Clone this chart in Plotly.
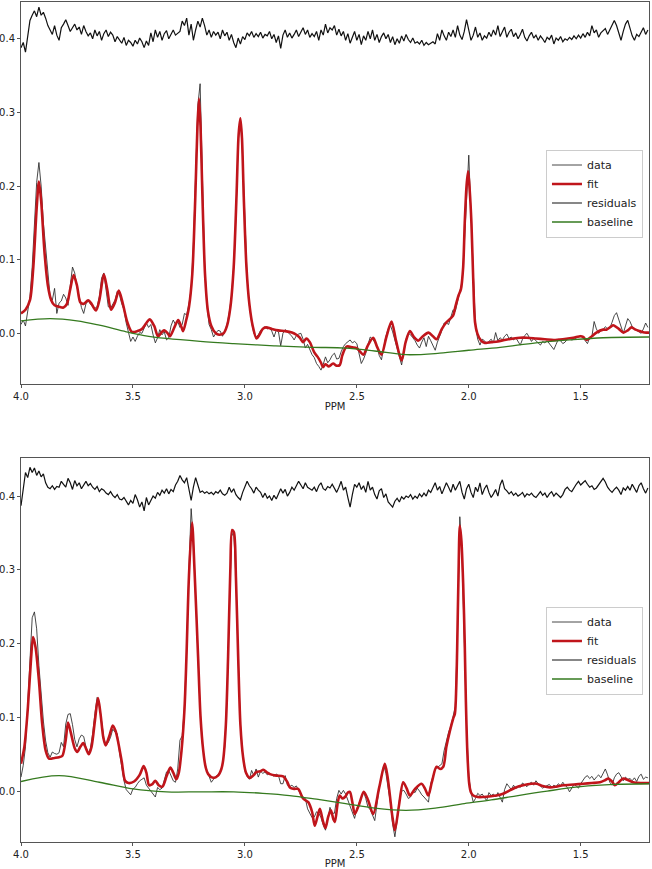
import numpy as np
import plotly.graph_objects as go

# ---------------- shared sampling grid (ppm) ----------------
ppm_grid = [round(4.00 - 0.01 * i, 2) for i in range(281)]  # 4.00 ... 1.20

# ---------------- TOP PANEL ----------------
data_top = [
    0.012, 0.018, 0.010, 0.030, 0.050, 0.090, 0.140, 0.205, 0.232, 0.200,
    0.150, 0.113, 0.075, 0.050, 0.045, 0.061, 0.027, 0.041, 0.044, 0.053,
    0.048, 0.038, 0.065, 0.090, 0.082, 0.062, 0.050, 0.035, 0.027, 0.040,
    0.044, 0.040, 0.036, 0.034, 0.036, 0.050, 0.075, 0.082, 0.060, 0.036,
    0.034, 0.040, 0.045, 0.057, 0.052, 0.040, 0.032, 0.014, 0.002, -0.011,
    -0.005, -0.011, -0.004, 0.001, 0.000, 0.008, 0.014, 0.008, 0.012, -0.002,
    -0.013, -0.006, 0.005, -0.002, 0.002, -0.009, -0.006, 0.010, 0.018, 0.012,
    0.016, 0.008, 0.012, 0.027, 0.025, 0.040, 0.060, 0.120, 0.220, 0.310,
    0.339, 0.200, 0.095, 0.040, 0.012, 0.005, -0.005, 0.000, 0.004, 0.003,
    -0.004, 0.002, 0.012, 0.028, 0.050, 0.090, 0.160, 0.260, 0.292, 0.240,
    0.150, 0.075, 0.038, 0.015, 0.000, -0.005, -0.002, 0.004, 0.007, 0.009,
    0.006, 0.008, 0.003, -0.005, 0.004, 0.002, -0.017, 0.000, 0.005, 0.002,
    0.000, -0.004, -0.009, -0.003, -0.001, 0.000, -0.008, -0.020, -0.015, -0.022,
    -0.029, -0.033, -0.041, -0.045, -0.050, -0.042, -0.032, -0.040, -0.036, -0.030,
    -0.027, -0.035, -0.034, -0.025, -0.018, -0.014, -0.011, -0.009, -0.013, -0.011,
    -0.014, -0.027, -0.041, -0.035, -0.027, -0.015, -0.005, -0.008, -0.012, -0.018,
    -0.030, -0.036, -0.020, -0.004, 0.006, 0.011, 0.002, -0.010, -0.022, -0.035,
    -0.043, -0.025, -0.008, 0.000, -0.002, -0.006, -0.010, -0.016, -0.020, -0.012,
    -0.006, -0.018, -0.004, -0.010, -0.017, -0.023, -0.012, -0.005, 0.004, 0.014,
    0.014, 0.012, 0.022, 0.032, 0.030, 0.045, 0.059, 0.070, 0.120, 0.190,
    0.242, 0.160, 0.070, 0.009, -0.008, -0.016, -0.008, -0.010, -0.014, -0.011,
    -0.008, -0.013, 0.001, -0.010, -0.006, -0.009, -0.004, -0.001, -0.007, -0.005,
    -0.009, -0.006, -0.012, -0.016, -0.008, -0.003, 0.000, -0.006, -0.011, -0.007,
    -0.010, -0.013, -0.016, -0.011, -0.013, -0.010, -0.014, -0.018, -0.022, -0.015,
    -0.008, -0.010, -0.014, -0.012, -0.008, -0.006, -0.009, -0.008, -0.006, -0.004,
    -0.003, -0.006, -0.010, -0.014, -0.006, -0.004, 0.016, 0.006, 0.000, 0.004,
    0.005, 0.009, 0.006, 0.007, 0.015, 0.024, 0.028, 0.018, 0.008, 0.000,
    0.010, 0.020, 0.016, 0.009, 0.006, 0.004, 0.002, 0.000, 0.006, 0.014,
    0.008,
]

resid_top = [
    0.388, 0.395, 0.382, 0.405,
    0.425, 0.432, 0.438, 0.430, 0.443, 0.432, 0.436,
    0.428, 0.418, 0.412, 0.406, 0.418, 0.405, 0.398, 0.415, 0.420, 0.426,
    0.418, 0.410, 0.415, 0.420, 0.412, 0.416, 0.406, 0.418, 0.410, 0.404,
    0.408, 0.400, 0.412, 0.404, 0.410, 0.398, 0.407, 0.412, 0.403, 0.409,
    0.405, 0.396, 0.403, 0.399, 0.394, 0.402, 0.391, 0.398, 0.395, 0.390,
    0.398, 0.393, 0.401, 0.396, 0.388, 0.397, 0.391, 0.408, 0.396, 0.412,
    0.402, 0.410, 0.398, 0.407, 0.411, 0.400, 0.406, 0.412, 0.405, 0.408,
    0.410, 0.424, 0.418, 0.428, 0.405, 0.420, 0.398, 0.412, 0.424, 0.416,
    0.428, 0.418, 0.405, 0.412, 0.402, 0.410, 0.405, 0.409, 0.400, 0.412,
    0.404, 0.409, 0.398, 0.406, 0.395, 0.388, 0.401, 0.393, 0.403, 0.399,
    0.408, 0.404, 0.410, 0.402, 0.407, 0.403, 0.409, 0.401, 0.406, 0.404,
    0.410, 0.400, 0.406, 0.395, 0.404, 0.387, 0.405, 0.412, 0.402, 0.408,
    0.401, 0.406, 0.412, 0.403, 0.409, 0.415, 0.406, 0.412, 0.402, 0.407,
    0.403, 0.410, 0.398, 0.412, 0.405, 0.420, 0.408, 0.415, 0.412, 0.418,
    0.405, 0.413, 0.404, 0.410, 0.398, 0.407, 0.394, 0.402, 0.410, 0.398,
    0.406, 0.392, 0.404, 0.398, 0.410, 0.400, 0.412, 0.398, 0.406, 0.395,
    0.403, 0.408, 0.400, 0.406, 0.395, 0.403, 0.392, 0.400, 0.394, 0.404,
    0.397, 0.406, 0.399, 0.395, 0.401, 0.394, 0.396, 0.393, 0.398, 0.391,
    0.395, 0.392, 0.394, 0.396, 0.393, 0.407, 0.398, 0.412, 0.404, 0.398,
    0.409, 0.403, 0.412, 0.402, 0.418, 0.405, 0.399, 0.410, 0.426, 0.410,
    0.398, 0.405, 0.416, 0.402, 0.408, 0.398, 0.404, 0.401, 0.409, 0.403,
    0.412, 0.405, 0.418, 0.403, 0.410, 0.416, 0.402, 0.409, 0.413, 0.403,
    0.408, 0.400, 0.406, 0.413, 0.402, 0.397, 0.404, 0.409, 0.401, 0.405,
    0.398, 0.404, 0.400, 0.395, 0.402, 0.399, 0.405, 0.393, 0.401, 0.398,
    0.403, 0.396, 0.400, 0.398, 0.402, 0.399, 0.404, 0.400, 0.405, 0.401,
    0.407, 0.402, 0.409, 0.404, 0.418, 0.408, 0.412, 0.402, 0.408, 0.411,
    0.414, 0.406, 0.412, 0.420, 0.425, 0.418, 0.407, 0.398, 0.410, 0.420,
    0.425, 0.414, 0.404, 0.398, 0.406, 0.403, 0.410, 0.415, 0.406, 0.412,
]

fit_top_ppm = [
    4.00, 3.98, 3.96, 3.945, 3.93, 3.92, 3.91, 3.895, 3.88, 3.865,
    3.85, 3.83, 3.81, 3.795, 3.78, 3.765, 3.75, 3.735, 3.72, 3.70,
    3.685, 3.665, 3.65, 3.63, 3.615, 3.598, 3.58, 3.563, 3.545, 3.525,
    3.505, 3.48, 3.46, 3.44, 3.425, 3.405, 3.388, 3.37, 3.36, 3.345,
    3.335, 3.315, 3.298, 3.285, 3.276, 3.262, 3.25, 3.235, 3.222, 3.212,
    3.205, 3.198, 3.19, 3.178, 3.165, 3.15, 3.13, 3.115, 3.095, 3.08,
    3.065, 3.05, 3.037, 3.028, 3.02, 3.013, 3.005, 2.993, 2.98, 2.965,
    2.948, 2.935, 2.92, 2.905, 2.88, 2.85, 2.82, 2.79, 2.77, 2.755,
    2.74, 2.725, 2.71, 2.69, 2.675, 2.66, 2.651, 2.64, 2.625, 2.606,
    2.59, 2.576, 2.565, 2.546, 2.52, 2.501, 2.485, 2.471, 2.45, 2.427,
    2.41, 2.39, 2.368, 2.345, 2.325, 2.30, 2.282, 2.263, 2.245, 2.226,
    2.205, 2.18, 2.16, 2.144, 2.12, 2.10, 2.07, 2.06, 2.045, 2.035,
    2.025, 2.018, 2.010, 2.003, 1.996, 1.988, 1.980, 1.972, 1.962, 1.945,
    1.928, 1.90, 1.87, 1.84, 1.80, 1.772, 1.74, 1.70, 1.66, 1.62,
    1.58, 1.533, 1.50, 1.489, 1.474, 1.45, 1.43, 1.40, 1.385, 1.365,
    1.355, 1.33, 1.31, 1.29, 1.273, 1.255, 1.236, 1.215, 1.195,
]
fit_top_val = [
    0.027, 0.032, 0.045, 0.090, 0.170, 0.206, 0.180, 0.110, 0.065, 0.045,
    0.038, 0.036, 0.035, 0.040, 0.060, 0.079, 0.065, 0.042, 0.040, 0.045,
    0.040, 0.031, 0.045, 0.080, 0.060, 0.032, 0.042, 0.058, 0.040, 0.015,
    0.002, 0.003, 0.006, 0.014, 0.019, 0.010, -0.004, 0.002, 0.004, 0.000,
    -0.004, 0.008, 0.018, 0.010, 0.003, 0.018, 0.035, 0.080, 0.180, 0.280,
    0.319, 0.280, 0.190, 0.080, 0.030, 0.010, 0.000, -0.002, 0.000, 0.010,
    0.035, 0.090, 0.190, 0.270, 0.292, 0.265, 0.185, 0.090, 0.040, 0.010,
    -0.007, -0.002, 0.006, 0.008, 0.006, 0.004, 0.003, 0.001, -0.002, -0.006,
    -0.012, -0.007, -0.012, -0.026, -0.032, -0.040, -0.046, -0.042, -0.045, -0.041,
    -0.044, -0.043, -0.030, -0.018, -0.019, -0.020, -0.025, -0.029, -0.016, -0.006,
    -0.018, -0.029, -0.005, 0.016, -0.010, -0.037, -0.012, 0.003, -0.005, -0.010,
    -0.004, 0.001, -0.004, -0.008, 0.006, 0.015, 0.024, 0.036, 0.052, 0.060,
    0.090, 0.150, 0.200, 0.220, 0.195, 0.149, 0.072, 0.015, 0.000, -0.010,
    -0.013, -0.012, -0.011, -0.009, -0.007, -0.006, -0.006, -0.007, -0.008, -0.009,
    -0.008, -0.006, -0.004, -0.005, -0.009, -0.004, 0.001, 0.005, 0.005, 0.009,
    0.011, 0.006, 0.001, 0.004, 0.008, 0.005, 0.003, 0.001, 0.001,
]

base_top_ppm = [4.00, 3.87, 3.75, 3.65, 3.53, 3.45, 3.35, 3.20, 3.05, 2.87,
                2.70, 2.55, 2.42, 2.28, 2.13, 2.00, 1.86, 1.70, 1.55, 1.40, 1.195]
base_top_val = [0.017, 0.020, 0.017, 0.011, 0.002, -0.003, -0.007, -0.011, -0.014, -0.017,
                -0.019, -0.020, -0.024, -0.029, -0.027, -0.023, -0.019, -0.013, -0.009, -0.006, -0.005]

# ---------------- BOTTOM PANEL ----------------
data_bot = [
    0.019, 0.035, 0.060, 0.120, 0.190, 0.235, 0.243, 0.220, 0.170, 0.125,
    0.095, 0.068, 0.052, 0.046, 0.053, 0.051, 0.050, 0.052, 0.066, 0.060,
    0.091, 0.104, 0.105, 0.090, 0.070, 0.060, 0.071, 0.076, 0.074, 0.060,
    0.051, 0.058, 0.078, 0.105, 0.127, 0.118, 0.096, 0.072, 0.062, 0.066,
    0.073, 0.084, 0.080, 0.078, 0.052, 0.030, 0.014, 0.002, -0.002, -0.005,
    0.003, 0.005, 0.010, 0.014, 0.016, 0.018, 0.008, 0.004, 0.001, -0.003,
    -0.008, 0.005, 0.002, 0.004, 0.015, 0.026, 0.028, 0.022, 0.014, 0.012,
    0.030, 0.069, 0.075, 0.115, 0.190, 0.300, 0.383, 0.340, 0.260, 0.180,
    0.110, 0.065, 0.040, 0.028, 0.020, 0.012, 0.016, 0.020, 0.022, 0.026,
    0.036, 0.060, 0.130, 0.240, 0.345, 0.352, 0.290, 0.180, 0.090, 0.050,
    0.028, 0.020, 0.016, 0.028, 0.021, 0.030, 0.019, 0.027, 0.024, 0.026,
    0.022, 0.024, 0.022, 0.020, 0.023, 0.021, 0.010, 0.010, 0.021, 0.008,
    0.006, 0.008, 0.005, 0.007, 0.001, -0.005, -0.008, -0.010, -0.024, -0.030,
    -0.036, -0.035, -0.028, -0.030, -0.036, -0.046, -0.053, -0.038, -0.022, -0.030,
    -0.030, -0.010, 0.001, -0.004, 0.001, -0.004, -0.012, -0.020, -0.030, -0.037,
    -0.024, -0.016, -0.008, -0.001, -0.010, -0.022, -0.025, -0.033, -0.040, -0.018,
    0.006, 0.020, 0.035, 0.024, 0.005, -0.016, -0.045, -0.062, -0.040, -0.012,
    0.000, 0.001, -0.004, -0.010, -0.008, 0.000, -0.002, 0.004, 0.000, -0.005,
    -0.008, -0.012, -0.015, 0.010, 0.020, 0.030, 0.032, 0.034, 0.037, 0.055,
    0.068, 0.080, 0.088, 0.100, 0.115, 0.220, 0.372, 0.320, 0.200, 0.090,
    0.020, -0.002, -0.015, -0.010, -0.003, -0.006, -0.004, -0.008, -0.013, -0.002,
    -0.006, -0.004, -0.008, -0.002, -0.009, -0.015, 0.002, 0.010, 0.006, 0.002,
    0.008, 0.003, 0.007, 0.005, 0.011, 0.008, 0.006, 0.010, 0.012, 0.008,
    0.014, 0.010, 0.007, 0.004, 0.006, 0.007, 0.009, 0.005, 0.008, 0.006,
    0.010, 0.007, 0.012, 0.008, 0.005, -0.001, 0.005, 0.009, 0.007, 0.004,
    0.010, 0.015, 0.019, 0.021, 0.017, 0.020, 0.015, 0.019, 0.022, 0.018,
    0.025, 0.030, 0.022, 0.012, 0.008, 0.018, 0.023, 0.025, 0.020, 0.014,
    0.019, 0.016, 0.017, 0.014, 0.018, 0.013, 0.020, 0.023, 0.016, 0.019,
    0.018,
]

resid_bot = [
    0.387, 0.410, 0.432, 0.425,
    0.439, 0.432, 0.438, 0.428, 0.434, 0.426, 0.430,
    0.418, 0.412, 0.410, 0.414, 0.409, 0.413, 0.412, 0.420, 0.416, 0.412,
    0.424, 0.418, 0.409, 0.421, 0.414, 0.418, 0.410, 0.415, 0.420, 0.414,
    0.417, 0.412, 0.409, 0.413, 0.406, 0.410, 0.408, 0.404, 0.402, 0.406,
    0.401, 0.398, 0.402, 0.396, 0.395, 0.398, 0.392, 0.388, 0.394, 0.390,
    0.402, 0.395, 0.385, 0.392, 0.380, 0.398, 0.388, 0.394, 0.400, 0.397,
    0.405, 0.401, 0.408, 0.404, 0.410, 0.403, 0.409, 0.406, 0.415, 0.420,
    0.428, 0.422, 0.418, 0.425, 0.408, 0.394, 0.412, 0.425, 0.415, 0.405,
    0.407, 0.404, 0.406, 0.403, 0.405, 0.402, 0.406, 0.404, 0.408, 0.403,
    0.401, 0.404, 0.412, 0.405, 0.410, 0.402, 0.398, 0.395, 0.405, 0.412,
    0.420, 0.414, 0.410, 0.404, 0.412, 0.408, 0.405, 0.398, 0.404, 0.397,
    0.400, 0.394, 0.401, 0.396, 0.402, 0.410, 0.404, 0.409, 0.400, 0.405,
    0.412, 0.408, 0.414, 0.420, 0.415, 0.410, 0.418, 0.412, 0.410, 0.408,
    0.412, 0.406, 0.414, 0.418, 0.410, 0.408, 0.413, 0.411, 0.416, 0.410,
    0.405, 0.412, 0.420, 0.408, 0.412, 0.398, 0.385, 0.402, 0.416, 0.412,
    0.418, 0.409, 0.414, 0.405, 0.420, 0.408, 0.412, 0.402, 0.396, 0.407,
    0.410, 0.398, 0.403, 0.392, 0.388, 0.385, 0.393, 0.397, 0.392, 0.399,
    0.396, 0.400, 0.398, 0.402, 0.396, 0.400, 0.397, 0.403, 0.399, 0.404,
    0.400, 0.408, 0.405, 0.412, 0.418, 0.408, 0.413, 0.403, 0.410, 0.418,
    0.412, 0.405, 0.416, 0.408, 0.414, 0.420, 0.405, 0.396, 0.410, 0.416,
    0.405, 0.398, 0.412, 0.406, 0.418, 0.402, 0.410, 0.415, 0.405, 0.398,
    0.403, 0.409, 0.400, 0.415, 0.422, 0.410, 0.407, 0.403, 0.406, 0.401,
    0.404, 0.400, 0.402, 0.405, 0.399, 0.403, 0.401, 0.404, 0.400, 0.398,
    0.402, 0.406, 0.401, 0.404, 0.398, 0.403, 0.406, 0.400, 0.404, 0.401,
    0.398, 0.402, 0.409, 0.412, 0.408, 0.406, 0.412, 0.416, 0.420, 0.415,
    0.418, 0.421, 0.416, 0.412, 0.414, 0.409, 0.411, 0.416, 0.420, 0.424,
    0.419, 0.412, 0.408, 0.405, 0.409, 0.412, 0.408, 0.402, 0.411, 0.408,
    0.413, 0.408, 0.416, 0.410, 0.405, 0.414, 0.418, 0.410, 0.404, 0.411,
]

fit_bot_ppm = [
    4.00, 3.985, 3.97, 3.955, 3.946, 3.935, 3.92, 3.905, 3.89, 3.875,
    3.85, 3.83, 3.815, 3.80, 3.79, 3.778, 3.76, 3.749, 3.735, 3.722,
    3.71, 3.697, 3.685, 3.67, 3.656, 3.645, 3.632, 3.622, 3.605, 3.59,
    3.578, 3.565, 3.55, 3.535, 3.52, 3.495, 3.47, 3.452, 3.44, 3.428,
    3.415, 3.40, 3.385, 3.368, 3.35, 3.333, 3.32, 3.306, 3.295, 3.283,
    3.27, 3.261, 3.25, 3.236, 3.225, 3.209, 3.198, 3.186, 3.175, 3.164,
    3.142, 3.12, 3.105, 3.097, 3.085, 3.075, 3.065, 3.057, 3.049, 3.04,
    3.03, 3.02, 3.008, 2.995, 2.978, 2.96, 2.948, 2.93, 2.918, 2.90,
    2.888, 2.86, 2.829, 2.81, 2.799, 2.78, 2.762, 2.74, 2.717, 2.70,
    2.688, 2.676, 2.665, 2.652, 2.640, 2.628, 2.616, 2.605, 2.598, 2.585,
    2.576, 2.565, 2.553, 2.54, 2.531, 2.52, 2.509, 2.49, 2.469, 2.45,
    2.427, 2.40, 2.375, 2.363, 2.353, 2.341, 2.330, 2.312, 2.293, 2.278,
    2.263, 2.24, 2.211, 2.195, 2.181, 2.165, 2.144, 2.128, 2.114, 2.10,
    2.084, 2.07, 2.062, 2.056, 2.052, 2.046, 2.040, 2.033, 2.025, 2.018,
    2.013, 2.006, 1.998, 1.99, 1.98, 1.96, 1.936, 1.90, 1.876, 1.85,
    1.817, 1.79, 1.757, 1.72, 1.697, 1.67, 1.638, 1.61, 1.578, 1.53,
    1.489, 1.45, 1.414, 1.39, 1.377, 1.36, 1.348, 1.33, 1.31, 1.29,
    1.266, 1.23, 1.194,
]
fit_bot_val = [
    0.037, 0.060, 0.110, 0.180, 0.209, 0.195, 0.150, 0.090, 0.055, 0.044,
    0.045, 0.046, 0.048, 0.070, 0.093, 0.080, 0.058, 0.053, 0.060, 0.065,
    0.058, 0.050, 0.060, 0.095, 0.126, 0.105, 0.072, 0.062, 0.075, 0.089,
    0.082, 0.065, 0.040, 0.014, 0.011, 0.013, 0.022, 0.034, 0.025, 0.008,
    0.009, 0.014, 0.008, 0.006, 0.020, 0.032, 0.025, 0.016, 0.025, 0.055,
    0.110, 0.182, 0.290, 0.364, 0.300, 0.182, 0.100, 0.055, 0.032, 0.023,
    0.018, 0.021, 0.030, 0.042, 0.090, 0.182, 0.300, 0.354, 0.351, 0.290,
    0.182, 0.090, 0.046, 0.025, 0.018, 0.022, 0.026, 0.027, 0.029, 0.025,
    0.023, 0.021, 0.020, 0.012, 0.005, 0.003, 0.003, -0.010, -0.015, -0.028,
    -0.047, -0.035, -0.024, -0.040, -0.050, -0.035, -0.026, -0.038, -0.042, -0.015,
    -0.006, -0.010, -0.008, -0.002, -0.001, -0.015, -0.031, -0.018, -0.001, -0.012,
    -0.031, 0.005, 0.037, 0.020, -0.004, -0.035, -0.053, -0.020, 0.012, 0.004,
    -0.006, 0.003, 0.010, 0.003, -0.006, 0.012, 0.033, 0.030, 0.033, 0.060,
    0.082, 0.098, 0.105, 0.140, 0.191, 0.290, 0.360, 0.340, 0.281, 0.200,
    0.123, 0.050, 0.010, -0.002, -0.006, -0.008, -0.008, -0.007, -0.006, -0.004,
    0.001, 0.005, 0.008, 0.010, 0.010, 0.007, 0.005, 0.006, 0.008, 0.009,
    0.010, 0.011, 0.012, 0.015, 0.017, 0.013, 0.008, 0.012, 0.017, 0.015,
    0.012, 0.011, 0.011,
]

base_bot_ppm = [4.00, 3.83, 3.65, 3.50, 3.35, 3.20, 3.05, 2.92, 2.80, 2.68,
                2.55, 2.42, 2.28, 2.15, 2.02, 1.90, 1.78, 1.65, 1.50, 1.35, 1.194]
base_bot_val = [0.013, 0.021, 0.012, 0.003, -0.001, -0.001, -0.001, -0.003, -0.006, -0.011,
                -0.017, -0.023, -0.026, -0.023, -0.017, -0.012, -0.006, 0.000, 0.006, 0.009, 0.010]

assert len(data_top) == len(ppm_grid) == len(resid_top) == len(data_bot) == len(resid_bot)
assert len(fit_top_ppm) == len(fit_top_val)
assert len(fit_bot_ppm) == len(fit_bot_val)

# ---------------- styles ----------------
C_DATA = "rgba(40,40,40,0.85)"
C_FIT = "#c0151b"
C_RES = "#111111"
C_BASE = "#357a1f"
FONT = "DejaVu Sans"
TXT = "#222222"

fig = go.Figure()

def add_panel(xa, ya, legend, data, resid, fppm, fval, bppm, bval):
    fig.add_trace(go.Scatter(x=ppm_grid, y=data, mode="lines", name="data",
                             line=dict(color=C_DATA, width=1), xaxis=xa, yaxis=ya, legend=legend))
    fig.add_trace(go.Scatter(x=fppm, y=fval, mode="lines", name="fit",
                             line=dict(color=C_FIT, width=2.6, shape="spline", smoothing=0.8),
                             xaxis=xa, yaxis=ya, legend=legend))
    fig.add_trace(go.Scatter(x=ppm_grid, y=resid, mode="lines", name="residuals",
                             line=dict(color=C_RES, width=1.2), xaxis=xa, yaxis=ya, legend=legend))
    fig.add_trace(go.Scatter(x=bppm, y=bval, mode="lines", name="baseline",
                             line=dict(color=C_BASE, width=1.3, shape="spline"),
                             xaxis=xa, yaxis=ya, legend=legend))

add_panel("x", "y", "legend", data_top, resid_top, fit_top_ppm, fit_top_val, base_top_ppm, base_top_val)
add_panel("x2", "y2", "legend2", data_bot, resid_bot, fit_bot_ppm, fit_bot_val, base_bot_ppm, base_bot_val)

axis_common = dict(showline=True, linecolor="#555555", linewidth=1, mirror=True,
                   ticks="outside", ticklen=3, tickwidth=0.8, tickcolor="#555555",
                   showgrid=False, zeroline=False, automargin=False,
                   tickfont=dict(family=FONT, size=10, color=TXT))

xticks = [4.0, 3.5, 3.0, 2.5, 2.0, 1.5]
yticks = [0.0, 0.1, 0.2, 0.3, 0.4]

legend_style = dict(xanchor="right", yanchor="middle",
                    bgcolor="rgba(255,255,255,0.85)", bordercolor="#cccccc", borderwidth=1,
                    font=dict(family=FONT, size=11, color=TXT), tracegroupgap=0)

fig.update_layout(
    width=652, height=869,
    margin=dict(l=21, r=3, t=2, b=27),
    paper_bgcolor="white", plot_bgcolor="white",
    font=dict(family=FONT, size=10, color=TXT),
    showlegend=True,
    xaxis=dict(axis_common, range=[4.0, 1.195], anchor="y", domain=[0, 1],
               tickvals=xticks, ticktext=[f"{v:.1f}" for v in xticks],
               title=dict(text="PPM", font=dict(family=FONT, size=10, color=TXT), standoff=1)),
    yaxis=dict(axis_common, range=[-0.069, 0.450], anchor="x", domain=[0.5451, 1.0],
               tickvals=yticks, ticktext=[f"{v:.1f}" for v in yticks]),
    xaxis2=dict(axis_common, range=[4.0, 1.195], anchor="y2", domain=[0, 1],
                tickvals=xticks, ticktext=[f"{v:.1f}" for v in xticks],
                title=dict(text="PPM", font=dict(family=FONT, size=10, color=TXT), standoff=1)),
    yaxis2=dict(axis_common, range=[-0.069, 0.451], anchor="x2", domain=[0.0, 0.4566],
                tickvals=yticks, ticktext=[f"{v:.1f}" for v in yticks]),
    legend=dict(legend_style, x=0.9904, y=(842 - 193.5) / 840),
    legend2=dict(legend_style, x=0.9904, y=(842 - 650.5) / 840),
)

fig.write_html("out.html", config={"displayModeBar": False},
               post_script="document.body.style.margin='0';document.body.style.padding='0';")
